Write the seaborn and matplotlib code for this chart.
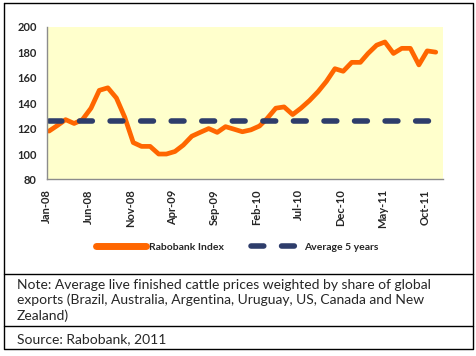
import numpy as np
import pandas as pd
import matplotlib
matplotlib.use("Agg")
import matplotlib.pyplot as plt
import matplotlib.dates as mdates
from matplotlib.lines import Line2D
import seaborn as sns

# monthly index, Jan-08 .. Nov-11
index_values = [118, 122.5, 127, 124, 127, 136, 150, 152, 144, 129,
                109, 106, 106, 100, 100, 102, 107, 114, 117, 120,
                117, 121.5, 119.5, 117.5, 119, 122, 128, 136, 137, 131,
                136, 142, 149, 157, 167, 165, 172, 172, 179, 185.5,
                188, 179, 183, 183, 170, 181, 180]
avg_5_years = 126
series_names = ["Rabobank Index", "Average 5 years"]
note_lines = ["Note: Average live finished cattle prices weighted by share of global",
              "exports (Brazil, Australia, Argentina, Uruguay, US, Canada and New",
              "Zealand)"]
source_text = "Source: Rabobank, 2011"

months = pd.date_range("2008-01-01", periods=len(index_values), freq="MS") + pd.Timedelta(days=9)
df = pd.DataFrame({"date": months,
                   "index": index_values,
                   "avg": [avg_5_years] * len(index_values)})

sns.set_style("white")
plt.rcParams["font.family"] = ["Lato", "DejaVu Sans"]

orange = "#FF6600"
navy = "#2E3D6B"
dash_pat = (2.3, 3.2)

fig = plt.figure(figsize=(4.77, 3.56), dpi=100)
ax = fig.add_axes([0.0975, 0.4958, 0.928 - 0.0975, 0.925 - 0.4958])
ax.set_facecolor("#FFFFCC")

sns.lineplot(data=df, x="date", y="index", ax=ax, color=orange, linewidth=3.4,
             solid_capstyle="round", solid_joinstyle="round")
sns.lineplot(data=df, x="date", y="avg", ax=ax, color=navy, linewidth=4.0,
             dashes=False)
ax.lines[-1].set_dashes(dash_pat)
ax.lines[-1].set_dash_capstyle("round")

ax.set_ylim(80, 200)
ax.set_yticks(np.arange(80, 201, 20))
ax.set_xlim(pd.Timestamp("2008-01-01"), pd.Timestamp("2011-12-05"))
ax.set_xticks(pd.date_range("2008-01-01", periods=10, freq="5MS"))
ax.xaxis.set_major_formatter(mdates.DateFormatter("%b-%y"))
ax.set_xlabel("")
ax.set_ylabel("")

for s in ["top", "right"]:
    ax.spines[s].set_visible(False)
for s in ["left", "bottom"]:
    ax.spines[s].set_color("#8C8C8C")
    ax.spines[s].set_linewidth(1.0)
ax.tick_params(axis="both", which="major", direction="out", length=4, width=1,
               color="#8C8C8C", labelsize=8.0, pad=3)
for lab in ax.get_xticklabels():
    lab.set_rotation(90)
    lab.set_fontweight("bold")
for lab in ax.get_yticklabels():
    lab.set_fontweight("bold")

handles = [Line2D([], [], color=orange, linewidth=5),
           Line2D([], [], color=navy, linewidth=4.0, dashes=dash_pat,
                  dash_capstyle="round")]
fig.legend(handles, series_names, loc="center", bbox_to_anchor=(237 / 477, 1 - 247 / 356),
           ncol=2, frameon=False, handlelength=4.8, columnspacing=2.6,
           handletextpad=0.3, prop={"size": 7.5, "weight": "bold"})

# box with note and source
frame_kw = dict(color="black", linewidth=1.0, transform=fig.transFigure)
x0, x1 = 4.3 / 477, 472.7 / 477
y_top, y_bot = 1 - 3.3 / 356, 1 - 349 / 356
fig.add_artist(Line2D([x0, x1, x1, x0, x0], [y_top, y_top, y_bot, y_bot, y_top], **frame_kw))
fig.add_artist(Line2D([x0, x1], [1 - 274 / 356] * 2, **frame_kw))
fig.add_artist(Line2D([x0, x1], [1 - 326 / 356] * 2, **frame_kw))

for i, line in enumerate(note_lines):
    fig.text(17 / 477, 1 - (289 + 15.5 * i) / 356, line, fontsize=10, va="baseline")
fig.text(17 / 477, 1 - 343 / 356, source_text, fontsize=10, va="baseline")

fig.savefig("out.png", dpi=100)
